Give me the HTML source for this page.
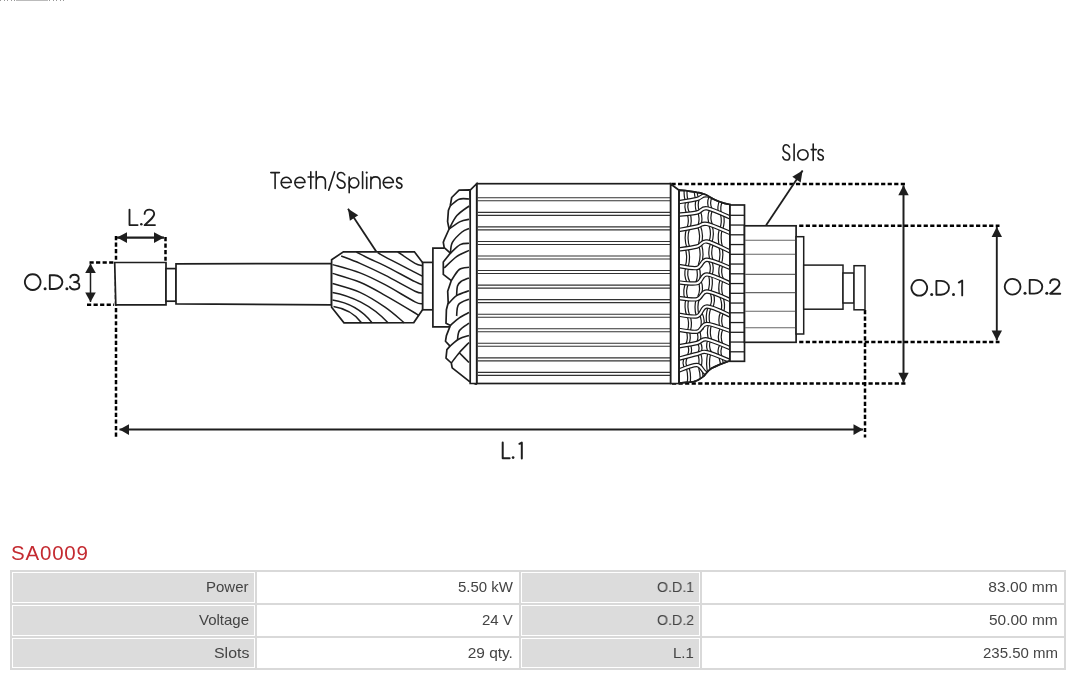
<!DOCTYPE html>
<html><head><meta charset="utf-8"><style>
html,body{margin:0;padding:0;background:#fff;width:1080px;height:676px;overflow:hidden;position:relative}
body{font-family:"Liberation Sans",sans-serif}
#title{position:absolute;left:11px;top:541px;font-size:20.5px;color:#c42a30;letter-spacing:0.8px;will-change:transform}
#tbl{position:absolute;left:10px;top:570px;border-collapse:separate;border-spacing:2px;background:#d9d9d9;table-layout:fixed}
#tbl td{border:1px solid #fff;height:29px;padding:0 5px;box-sizing:border-box;text-align:right;font-size:15px;color:#444;white-space:nowrap}
#tbl td span{display:inline-block;transform-origin:100% 50%;will-change:transform}
#tbl td.l{background:#dcdcdc}
#tbl td.v{background:#fff}
.top{position:absolute;left:0;top:0;height:1px;width:16px;background:repeating-linear-gradient(90deg,#999 0 1px,#fff 1px 3.57px)}
.top2{position:absolute;left:49px;top:0;height:1px;width:16px;background:repeating-linear-gradient(90deg,#999 0 1px,#fff 1px 3.57px)}
.topbar{position:absolute;left:16px;top:0;height:1px;width:32px;background:#bbb}
</style></head><body>
<div class="top"></div><div class="top2"></div><div class="topbar"></div>
<svg width="1080" height="520" viewBox="0 0 1080 520" style="position:absolute;left:0;top:0">
<g fill="none" stroke="#1e1e1e" stroke-linecap="butt" stroke-linejoin="miter">
<line x1="116" y1="236" x2="116" y2="437" stroke="#000" stroke-width="2.5" stroke-dasharray="4.2 2.35"/>
<line x1="165.5" y1="237" x2="165.5" y2="262" stroke="#000" stroke-width="2.5" stroke-dasharray="4.2 2.35"/>
<line x1="89.5" y1="262.4" x2="114" y2="262.4" stroke="#000" stroke-width="2.5" stroke-dasharray="4.2 2.35"/>
<line x1="87" y1="304.8" x2="114" y2="304.8" stroke="#000" stroke-width="2.5" stroke-dasharray="4.2 2.35"/>
<line x1="671.5" y1="184.1" x2="905.5" y2="184.1" stroke="#000" stroke-width="2.5" stroke-dasharray="4.2 2.35"/>
<line x1="672" y1="383.6" x2="905.5" y2="383.6" stroke="#000" stroke-width="2.5" stroke-dasharray="4.2 2.35"/>
<line x1="799.2" y1="225.8" x2="999.5" y2="225.8" stroke="#000" stroke-width="2.5" stroke-dasharray="4.2 2.35"/>
<line x1="799.2" y1="342" x2="999.5" y2="342" stroke="#000" stroke-width="2.5" stroke-dasharray="4.2 2.35"/>
<line x1="865" y1="310" x2="865" y2="437.5" stroke="#000" stroke-width="2.5" stroke-dasharray="4.2 2.35"/>
<line x1="117" y1="237.6" x2="164" y2="237.6" stroke-width="2.2"/>
<path d="M164.00,237.60 L154.00,243.00 L154.00,232.20 Z" fill="#1e1e1e" stroke="none"/>
<path d="M117.00,237.60 L127.00,232.20 L127.00,243.00 Z" fill="#1e1e1e" stroke="none"/>
<line x1="90.5" y1="263.5" x2="90.5" y2="302" stroke-width="1.5"/>
<path d="M90.50,302.00 L85.20,292.50 L95.80,292.50 Z" fill="#1e1e1e" stroke="none"/>
<path d="M90.50,263.50 L95.80,273.00 L85.20,273.00 Z" fill="#1e1e1e" stroke="none"/>
<line x1="119.5" y1="429.6" x2="863" y2="429.6" stroke-width="2.0"/>
<path d="M863.00,429.60 L853.50,434.90 L853.50,424.30 Z" fill="#1e1e1e" stroke="none"/>
<path d="M119.50,429.60 L129.00,424.30 L129.00,434.90 Z" fill="#1e1e1e" stroke="none"/>
<line x1="903.5" y1="185.3" x2="903.5" y2="382.8" stroke-width="2.0"/>
<path d="M903.50,382.80 L898.30,372.80 L908.70,372.80 Z" fill="#1e1e1e" stroke="none"/>
<path d="M903.50,185.30 L908.70,195.30 L898.30,195.30 Z" fill="#1e1e1e" stroke="none"/>
<line x1="996.8" y1="226.9" x2="996.8" y2="340.4" stroke-width="1.9"/>
<path d="M996.80,340.40 L991.60,330.40 L1002.00,330.40 Z" fill="#1e1e1e" stroke="none"/>
<path d="M996.80,226.90 L1002.00,236.90 L991.60,236.90 Z" fill="#1e1e1e" stroke="none"/>
<line x1="376.9" y1="252.5" x2="348" y2="208.8" stroke-width="1.8"/>
<path d="M348.00,208.80 L358.24,215.22 L349.90,220.73 Z" fill="#1e1e1e" stroke="none"/>
<line x1="766.1" y1="225.2" x2="802.6" y2="170.5" stroke-width="1.8"/>
<path d="M802.60,170.50 L800.65,182.43 L792.34,176.87 Z" fill="#1e1e1e" stroke="none"/>
<polygon points="114.7,262.5 166,262.5 166,304.8 115.8,304.8" fill="#fff" stroke-width="1.7"/>
<rect x="166" y="268.6" width="10" height="32.599999999999966" fill="#fff" stroke-width="1.7"/>
<polygon points="176,263.8 331.5,263.5 331.5,304.8 176,303.9" fill="#fff" stroke-width="1.7"/>
<polygon points="331.6,259.8 343.4,251.8 414.4,251.8 422.7,262.8 422.7,309.5 413.8,322.6 344,322.8 331.6,307.2" fill="#fff" stroke-width="1.7"/>
<path d="M397.80,252.00 C400.67,253.90 410.85,261.10 415.00,263.40 C419.15,265.70 421.42,265.40 422.70,265.80" fill="none" stroke-width="1.5"/>
<path d="M377.70,252.50 C378.92,253.23 378.78,253.60 385.00,256.90 C391.22,260.20 408.72,269.05 415.00,272.30 C421.28,275.55 421.42,275.72 422.70,276.40" fill="none" stroke-width="1.5"/>
<path d="M356.40,252.00 C358.67,253.17 365.23,256.70 370.00,259.00 C374.77,261.30 377.50,262.02 385.00,265.80 C392.50,269.58 408.72,278.55 415.00,281.70 C421.28,284.85 421.42,284.20 422.70,284.70" fill="none" stroke-width="1.5"/>
<path d="M341.20,256.00 C344.33,257.23 352.70,260.20 360.00,263.40 C367.30,266.60 375.83,270.57 385.00,275.20 C394.17,279.83 408.72,288.23 415.00,291.20 C421.28,294.17 421.42,292.70 422.70,293.00" fill="none" stroke-width="1.5"/>
<path d="M332.50,264.60 C337.08,265.98 351.25,269.55 360.00,272.90 C368.75,276.25 375.83,279.88 385.00,284.70 C394.17,289.52 408.72,298.65 415.00,301.80 C421.28,304.95 421.42,303.30 422.70,303.60" fill="none" stroke-width="1.5"/>
<path d="M332.50,273.40 C337.08,274.88 351.25,278.65 360.00,282.30 C368.75,285.95 375.83,290.18 385.00,295.30 C394.17,300.42 409.47,309.63 415.00,313.00 C420.53,316.37 417.67,315.08 418.20,315.50" fill="none" stroke-width="1.5"/>
<path d="M332.50,283.50 C337.08,284.98 351.25,288.45 360.00,292.40 C368.75,296.35 377.62,302.13 385.00,307.20 C392.38,312.27 401.08,320.20 404.30,322.80" fill="none" stroke-width="1.5"/>
<path d="M332.5,292.4 C350,295.5 372,305 388,322.8" fill="none" stroke-width="1.5"/>
<path d="M332.5,300.1 C348,302.5 362,310 372,322.8" fill="none" stroke-width="1.5"/>
<path d="M333.5,306.6 C345,308.5 355,314 361.5,322.8" fill="none" stroke-width="1.5"/>
<rect x="422.7" y="262.4" width="10.199999999999989" height="47.400000000000034" fill="#fff" stroke-width="1.7"/>
<path d="M444.2,248.2 H432.9 V326.9 H450" fill="#fff" stroke-width="1.7"/>
<path d="M469.9,189.9 L459.1,190.1 L451.7,197.5 L450.2,206 L448.4,210.4 L447.6,221.6 L449.1,229 L444.2,239.8 L443.3,242.4 L444.2,247.7 L450.4,253.1 L443.3,262 L443.3,274.4 L451.3,280.6 L447.7,291.2 L448.2,302.7 L446.4,309.8 L446,323.2 L450.4,325.4 L446.4,335.6 L445.5,341.2 L450,346.1 L446.9,349.6 L446,358.1 L451.3,363 L452.2,367.8 L469,381.1 L476.1,384.2 Z" fill="#fff" stroke-width="1.7" stroke-linejoin="round"/>
<path d="M450.20,206.00 C451.68,204.87 455.95,200.37 459.10,199.20 C462.25,198.03 467.43,199.03 469.10,199.00" fill="none" stroke-width="1.6" stroke-linejoin="round"/>
<path d="M449.10,229.00 C450.40,226.77 453.57,219.43 456.90,215.60 C460.23,211.77 467.07,207.60 469.10,206.00" fill="none" stroke-width="1.6" stroke-linejoin="round"/>
<path d="M449.10,229.00 C450.95,227.77 456.87,223.22 460.20,221.60 C463.53,219.98 467.62,219.68 469.10,219.30" fill="none" stroke-width="1.6" stroke-linejoin="round"/>
<path d="M450.40,253.10 C450.73,251.32 450.47,245.92 452.40,242.40 C454.33,238.88 459.22,234.32 462.00,232.00 C464.78,229.68 467.92,229.08 469.10,228.50" fill="none" stroke-width="1.6" stroke-linejoin="round"/>
<path d="M450.40,253.10 C452.03,251.68 457.10,246.23 460.20,244.60 C463.30,242.97 467.53,243.52 469.00,243.30" fill="none" stroke-width="1.6" stroke-linejoin="round"/>
<path d="M444.20,268.00 C446.27,266.10 452.47,259.53 456.60,256.60 C460.73,253.67 466.93,251.43 469.00,250.40" fill="none" stroke-width="1.6" stroke-linejoin="round"/>
<path d="M451.30,280.60 C452.63,278.75 456.35,271.72 459.30,269.50 C462.25,267.28 467.38,267.67 469.00,267.30" fill="none" stroke-width="1.6" stroke-linejoin="round"/>
<path d="M448.20,304.00 C449.60,302.60 453.13,297.80 456.60,295.60 C460.07,293.40 466.93,291.60 469.00,290.80" fill="none" stroke-width="1.6" stroke-linejoin="round"/>
<path d="M456.60,295.60 C456.75,294.00 456.77,288.35 457.50,286.00 C458.23,283.65 459.08,282.85 461.00,281.50 C462.92,280.15 467.67,278.50 469.00,277.90" fill="none" stroke-width="1.6" stroke-linejoin="round"/>
<path d="M456.60,316.00 C456.93,314.08 456.53,307.30 458.60,304.50 C460.67,301.70 467.27,300.08 469.00,299.20" fill="none" stroke-width="1.6" stroke-linejoin="round"/>
<path d="M450.40,325.40 C451.88,324.13 456.20,319.95 459.30,317.80 C462.40,315.65 467.38,313.38 469.00,312.50" fill="none" stroke-width="1.6" stroke-linejoin="round"/>
<path d="M457.50,340.00 C457.83,338.42 457.58,333.30 459.50,330.50 C461.42,327.70 467.42,324.42 469.00,323.20" fill="none" stroke-width="1.6" stroke-linejoin="round"/>
<path d="M450.00,346.10 C451.50,344.92 455.83,340.77 459.00,339.00 C462.17,337.23 467.33,336.08 469.00,335.50" fill="none" stroke-width="1.6" stroke-linejoin="round"/>
<path d="M451.30,363.00 C452.63,361.28 456.35,356.12 459.30,352.70 C462.25,349.28 467.38,344.20 469.00,342.50" fill="none" stroke-width="1.6" stroke-linejoin="round"/>
<path d="M459.30,352.70 C460.92,354.33 467.38,360.87 469.00,362.50" fill="none" stroke-width="1.6" stroke-linejoin="round"/>
<rect x="476.7" y="183.7" width="194.00000000000006" height="199.8" fill="#fff" stroke-width="1.7"/>
<polygon points="470.2,190.2 476.7,183.7 476.7,383.5 470.2,383.5" fill="#fff" stroke-width="1.7"/>
<path d="M477.5,197.80 H670 M477.5,200.80 H670" fill="none" stroke="#333" stroke-width="1.1"/>
<path d="M477.5,212.35 H670 M477.5,215.35 H670" fill="none" stroke="#333" stroke-width="1.1"/>
<path d="M477.5,226.90 H670 M477.5,229.90 H670" fill="none" stroke="#333" stroke-width="1.1"/>
<path d="M477.5,241.45 H670 M477.5,244.45 H670" fill="none" stroke="#333" stroke-width="1.1"/>
<path d="M477.5,256.00 H670 M477.5,259.00 H670" fill="none" stroke="#333" stroke-width="1.1"/>
<path d="M477.5,270.55 H670 M477.5,273.55 H670" fill="none" stroke="#333" stroke-width="1.1"/>
<path d="M477.5,285.10 H670 M477.5,288.10 H670" fill="none" stroke="#333" stroke-width="1.1"/>
<path d="M477.5,299.65 H670 M477.5,302.65 H670" fill="none" stroke="#333" stroke-width="1.1"/>
<path d="M477.5,314.20 H670 M477.5,317.20 H670" fill="none" stroke="#333" stroke-width="1.1"/>
<path d="M477.5,328.75 H670 M477.5,331.75 H670" fill="none" stroke="#333" stroke-width="1.1"/>
<path d="M477.5,343.30 H670 M477.5,346.30 H670" fill="none" stroke="#333" stroke-width="1.1"/>
<path d="M477.5,357.85 H670 M477.5,360.85 H670" fill="none" stroke="#333" stroke-width="1.1"/>
<path d="M477.5,372.40 H670 M477.5,375.40 H670" fill="none" stroke="#333" stroke-width="1.1"/>
<polygon points="670.7,184 679.1,190.2 679.1,383.5 670.7,383.5" fill="#fff" stroke-width="1.7"/>
<clipPath id="mc"><path d="M679.1,190.2 C688,191 693,191.5 696.7,192.3 C702,193 705,194 708,196 C713,199 718,202.5 729.9,204.5 L729.9,360.6 C722,363.5 716,366 711.6,368.3 C707,371 706,374 703.8,376.1 C700,379 697,381 693.8,381.7 L679.1,383 Z"/></clipPath>
<path d="M679.1,190.2 C688,191 693,191.5 696.7,192.3 C702,193 705,194 708,196 C713,199 718,202.5 729.9,204.5 L729.9,360.6 C722,363.5 716,366 711.6,368.3 C707,371 706,374 703.8,376.1 C700,379 697,381 693.8,381.7 L679.1,383 Z" fill="#fff" stroke-width="1.7"/>
<g clip-path="url(#mc)"><path d="M686.97,185.00 Q684.25,192.86 686.72,200.72" fill="none" stroke="#1a1a1a" stroke-width="4.1"/><path d="M686.97,185.00 Q684.25,192.86 686.72,200.72" fill="none" stroke="#fff" stroke-width="1.7"/><path d="M697.64,185.00 Q694.08,191.88 697.32,198.77" fill="none" stroke="#1a1a1a" stroke-width="4.1"/><path d="M697.64,185.00 Q694.08,191.88 697.32,198.77" fill="none" stroke="#fff" stroke-width="1.7"/><path d="M709.17,185.00 Q706.02,190.57 708.06,196.15" fill="none" stroke="#1a1a1a" stroke-width="4.1"/><path d="M709.17,185.00 Q706.02,190.57 708.06,196.15" fill="none" stroke="#fff" stroke-width="1.7"/><path d="M721.30,185.00 Q717.59,192.66 720.68,200.32" fill="none" stroke="#1a1a1a" stroke-width="4.1"/><path d="M721.30,185.00 Q717.59,192.66 720.68,200.32" fill="none" stroke="#fff" stroke-width="1.7"/><path d="M687.65,200.60 Q684.65,207.11 688.44,213.61" fill="none" stroke="#1a1a1a" stroke-width="4.1"/><path d="M687.65,200.60 Q684.65,207.11 688.44,213.61" fill="none" stroke="#fff" stroke-width="1.7"/><path d="M697.87,198.69 Q695.43,205.41 698.18,212.13" fill="none" stroke="#1a1a1a" stroke-width="4.1"/><path d="M697.87,198.69 Q695.43,205.41 698.18,212.13" fill="none" stroke="#fff" stroke-width="1.7"/><path d="M710.75,196.69 Q707.44,203.24 710.93,209.78" fill="none" stroke="#1a1a1a" stroke-width="4.1"/><path d="M710.75,196.69 Q707.44,203.24 710.93,209.78" fill="none" stroke="#fff" stroke-width="1.7"/><path d="M721.19,200.28 Q718.05,207.10 720.10,213.92" fill="none" stroke="#1a1a1a" stroke-width="4.1"/><path d="M721.19,200.28 Q718.05,207.10 720.10,213.92" fill="none" stroke="#fff" stroke-width="1.7"/><path d="M688.58,213.50 Q691.08,220.82 688.38,228.14" fill="none" stroke="#1a1a1a" stroke-width="4.1"/><path d="M688.58,213.50 Q691.08,220.82 688.38,228.14" fill="none" stroke="#fff" stroke-width="1.7"/><path d="M699.12,211.61 Q701.79,218.78 699.27,225.95" fill="none" stroke="#1a1a1a" stroke-width="4.1"/><path d="M699.12,211.61 Q701.79,218.78 699.27,225.95" fill="none" stroke="#fff" stroke-width="1.7"/><path d="M711.05,209.90 Q707.74,217.69 711.24,225.49" fill="none" stroke="#1a1a1a" stroke-width="4.1"/><path d="M711.05,209.90 Q707.74,217.69 711.24,225.49" fill="none" stroke="#fff" stroke-width="1.7"/><path d="M721.92,214.21 Q724.03,221.98 720.95,229.75" fill="none" stroke="#1a1a1a" stroke-width="4.1"/><path d="M721.92,214.21 Q724.03,221.98 720.95,229.75" fill="none" stroke="#fff" stroke-width="1.7"/><path d="M688.14,228.23 Q684.88,238.06 688.42,247.89" fill="none" stroke="#1a1a1a" stroke-width="4.1"/><path d="M688.14,228.23 Q684.88,238.06 688.42,247.89" fill="none" stroke="#fff" stroke-width="1.7"/><path d="M698.99,225.98 Q702.72,235.74 699.65,245.51" fill="none" stroke="#1a1a1a" stroke-width="4.1"/><path d="M698.99,225.98 Q702.72,235.74 699.65,245.51" fill="none" stroke="#fff" stroke-width="1.7"/><path d="M710.40,225.23 Q713.63,234.11 710.06,242.98" fill="none" stroke="#1a1a1a" stroke-width="4.1"/><path d="M710.40,225.23 Q713.63,234.11 710.06,242.98" fill="none" stroke="#fff" stroke-width="1.7"/><path d="M720.75,229.29 Q718.38,238.39 721.22,247.49" fill="none" stroke="#1a1a1a" stroke-width="4.1"/><path d="M720.75,229.29 Q718.38,238.39 721.22,247.49" fill="none" stroke="#fff" stroke-width="1.7"/><path d="M686.73,248.11 Q689.36,257.45 686.79,266.78" fill="none" stroke="#1a1a1a" stroke-width="4.1"/><path d="M686.73,248.11 Q689.36,257.45 686.79,266.78" fill="none" stroke="#fff" stroke-width="1.7"/><path d="M700.13,244.94 Q703.27,255.19 699.62,265.44" fill="none" stroke="#1a1a1a" stroke-width="4.1"/><path d="M700.13,244.94 Q703.27,255.19 699.62,265.44" fill="none" stroke="#fff" stroke-width="1.7"/><path d="M711.94,243.65 Q708.55,252.61 711.97,261.56" fill="none" stroke="#1a1a1a" stroke-width="4.1"/><path d="M711.94,243.65 Q708.55,252.61 711.97,261.56" fill="none" stroke="#fff" stroke-width="1.7"/><path d="M720.49,247.38 Q722.68,255.99 719.66,264.60" fill="none" stroke="#1a1a1a" stroke-width="4.1"/><path d="M720.49,247.38 Q722.68,255.99 719.66,264.60" fill="none" stroke="#fff" stroke-width="1.7"/><path d="M687.47,266.87 Q684.62,274.78 688.58,282.70" fill="none" stroke="#1a1a1a" stroke-width="4.1"/><path d="M687.47,266.87 Q684.62,274.78 688.58,282.70" fill="none" stroke="#fff" stroke-width="1.7"/><path d="M697.73,267.40 Q700.14,274.98 697.35,282.56" fill="none" stroke="#1a1a1a" stroke-width="4.1"/><path d="M697.73,267.40 Q700.14,274.98 697.35,282.56" fill="none" stroke="#fff" stroke-width="1.7"/><path d="M710.05,260.89 Q713.55,268.24 710.24,275.60" fill="none" stroke="#1a1a1a" stroke-width="4.1"/><path d="M710.05,260.89 Q713.55,268.24 710.24,275.60" fill="none" stroke="#fff" stroke-width="1.7"/><path d="M721.37,264.92 Q718.50,272.47 722.44,280.03" fill="none" stroke="#1a1a1a" stroke-width="4.1"/><path d="M721.37,264.92 Q718.50,272.47 722.44,280.03" fill="none" stroke="#fff" stroke-width="1.7"/><path d="M687.42,282.70 Q683.50,290.61 686.37,298.52" fill="none" stroke="#1a1a1a" stroke-width="4.1"/><path d="M687.42,282.70 Q683.50,290.61 686.37,298.52" fill="none" stroke="#fff" stroke-width="1.7"/><path d="M699.60,280.91 Q702.75,289.05 699.09,297.19" fill="none" stroke="#1a1a1a" stroke-width="4.1"/><path d="M699.60,280.91 Q702.75,289.05 699.09,297.19" fill="none" stroke="#fff" stroke-width="1.7"/><path d="M710.16,275.64 Q712.18,284.16 709.01,292.67" fill="none" stroke="#1a1a1a" stroke-width="4.1"/><path d="M710.16,275.64 Q712.18,284.16 709.01,292.67" fill="none" stroke="#fff" stroke-width="1.7"/><path d="M721.39,280.04 Q718.92,288.45 721.65,296.85" fill="none" stroke="#1a1a1a" stroke-width="4.1"/><path d="M721.39,280.04 Q718.92,288.45 721.65,296.85" fill="none" stroke="#fff" stroke-width="1.7"/><path d="M687.48,298.52 Q685.20,306.93 688.12,315.35" fill="none" stroke="#1a1a1a" stroke-width="4.1"/><path d="M687.48,298.52 Q685.20,306.93 688.12,315.35" fill="none" stroke="#fff" stroke-width="1.7"/><path d="M697.89,298.52 Q695.17,306.97 697.64,315.43" fill="none" stroke="#1a1a1a" stroke-width="4.1"/><path d="M697.89,298.52 Q695.17,306.97 697.64,315.43" fill="none" stroke="#fff" stroke-width="1.7"/><path d="M711.75,293.27 Q714.65,300.81 710.74,308.36" fill="none" stroke="#1a1a1a" stroke-width="4.1"/><path d="M711.75,293.27 Q714.65,300.81 710.74,308.36" fill="none" stroke="#fff" stroke-width="1.7"/><path d="M721.35,296.84 Q724.41,304.48 722.27,312.12" fill="none" stroke="#1a1a1a" stroke-width="4.1"/><path d="M721.35,296.84 Q724.41,304.48 722.27,312.12" fill="none" stroke="#fff" stroke-width="1.7"/><path d="M688.46,315.45 Q691.31,323.11 688.95,330.76" fill="none" stroke="#1a1a1a" stroke-width="4.1"/><path d="M688.46,315.45 Q691.31,323.11 688.95,330.76" fill="none" stroke="#fff" stroke-width="1.7"/><path d="M700.46,312.91 Q704.41,320.96 701.56,329.00" fill="none" stroke="#1a1a1a" stroke-width="4.1"/><path d="M700.46,312.91 Q704.41,320.96 701.56,329.00" fill="none" stroke="#fff" stroke-width="1.7"/><path d="M709.45,307.46 Q706.43,316.06 708.62,324.67" fill="none" stroke="#1a1a1a" stroke-width="4.1"/><path d="M709.45,307.46 Q706.43,316.06 708.62,324.67" fill="none" stroke="#fff" stroke-width="1.7"/><path d="M721.98,312.37 Q718.56,320.47 721.94,328.57" fill="none" stroke="#1a1a1a" stroke-width="4.1"/><path d="M721.98,312.37 Q718.56,320.47 721.94,328.57" fill="none" stroke="#fff" stroke-width="1.7"/><path d="M687.77,330.69 Q690.11,337.66 687.24,344.63" fill="none" stroke="#1a1a1a" stroke-width="4.1"/><path d="M687.77,330.69 Q690.11,337.66 687.24,344.63" fill="none" stroke="#fff" stroke-width="1.7"/><path d="M697.94,330.97 Q700.67,336.82 698.20,342.66" fill="none" stroke="#1a1a1a" stroke-width="4.1"/><path d="M697.94,330.97 Q700.67,336.82 698.20,342.66" fill="none" stroke="#fff" stroke-width="1.7"/><path d="M709.96,324.82 Q707.58,332.67 710.41,340.52" fill="none" stroke="#1a1a1a" stroke-width="4.1"/><path d="M709.96,324.82 Q707.58,332.67 710.41,340.52" fill="none" stroke="#fff" stroke-width="1.7"/><path d="M721.55,328.44 Q718.09,336.68 721.44,344.93" fill="none" stroke="#1a1a1a" stroke-width="4.1"/><path d="M721.55,328.44 Q718.09,336.68 721.44,344.93" fill="none" stroke="#fff" stroke-width="1.7"/><path d="M688.61,344.48 Q691.89,350.32 688.37,356.16" fill="none" stroke="#1a1a1a" stroke-width="4.1"/><path d="M688.61,344.48 Q691.89,350.32 688.37,356.16" fill="none" stroke="#fff" stroke-width="1.7"/><path d="M698.68,342.39 Q702.24,348.05 699.00,353.70" fill="none" stroke="#1a1a1a" stroke-width="4.1"/><path d="M698.68,342.39 Q702.24,348.05 699.00,353.70" fill="none" stroke="#fff" stroke-width="1.7"/><path d="M709.19,340.23 Q706.37,346.63 710.35,353.03" fill="none" stroke="#1a1a1a" stroke-width="4.1"/><path d="M709.19,340.23 Q706.37,346.63 710.35,353.03" fill="none" stroke="#fff" stroke-width="1.7"/><path d="M721.32,344.84 Q717.73,351.24 720.94,357.64" fill="none" stroke="#1a1a1a" stroke-width="4.1"/><path d="M721.32,344.84 Q717.73,351.24 720.94,357.64" fill="none" stroke="#fff" stroke-width="1.7"/><path d="M686.16,356.79 Q682.84,362.62 686.32,368.46" fill="none" stroke="#1a1a1a" stroke-width="4.1"/><path d="M686.16,356.79 Q682.84,362.62 686.32,368.46" fill="none" stroke="#fff" stroke-width="1.7"/><path d="M699.11,353.62 Q701.85,360.25 699.38,366.88" fill="none" stroke="#1a1a1a" stroke-width="4.1"/><path d="M699.11,353.62 Q701.85,360.25 699.38,366.88" fill="none" stroke="#fff" stroke-width="1.7"/><path d="M709.21,353.04 Q706.75,363.83 709.48,374.62" fill="none" stroke="#1a1a1a" stroke-width="4.1"/><path d="M709.21,353.04 Q706.75,363.83 709.48,374.62" fill="none" stroke="#fff" stroke-width="1.7"/><path d="M720.45,357.31 Q723.59,367.78 721.54,378.26" fill="none" stroke="#1a1a1a" stroke-width="4.1"/><path d="M720.45,357.31 Q723.59,367.78 721.54,378.26" fill="none" stroke="#fff" stroke-width="1.7"/><path d="M687.81,367.93 Q690.75,378.97 686.90,390.00" fill="none" stroke="#1a1a1a" stroke-width="4.1"/><path d="M687.81,367.93 Q690.75,378.97 686.90,390.00" fill="none" stroke="#fff" stroke-width="1.7"/><path d="M700.05,367.71 Q703.42,378.86 700.00,390.00" fill="none" stroke="#1a1a1a" stroke-width="4.1"/><path d="M700.05,367.71 Q703.42,378.86 700.00,390.00" fill="none" stroke="#fff" stroke-width="1.7"/><path d="M709.94,374.85 Q706.86,382.43 708.98,390.00" fill="none" stroke="#1a1a1a" stroke-width="4.1"/><path d="M709.94,374.85 Q706.86,382.43 708.98,390.00" fill="none" stroke="#fff" stroke-width="1.7"/><path d="M721.03,378.45 Q723.60,384.22 720.98,390.00" fill="none" stroke="#1a1a1a" stroke-width="4.1"/><path d="M721.03,378.45 Q723.60,384.22 720.98,390.00" fill="none" stroke="#fff" stroke-width="1.7"/><path d="M676.00,202.60 C679.50,202.00 691.83,200.20 697.00,199.00 C702.17,197.80 701.17,194.57 707.00,195.40 C712.83,196.23 727.83,202.57 732.00,204.00" fill="none" stroke="#1a1a1a" stroke-width="4.4"/><path d="M676.00,202.60 C679.50,202.00 691.83,200.20 697.00,199.00 C702.17,197.80 701.17,194.57 707.00,195.40 C712.83,196.23 727.83,202.57 732.00,204.00" fill="none" stroke="#fff" stroke-width="2.0"/><path d="M676.00,215.00 C679.50,214.58 691.83,213.62 697.00,212.50 C702.17,211.38 701.17,207.35 707.00,208.30 C712.83,209.25 727.83,216.55 732.00,218.20" fill="none" stroke="#1a1a1a" stroke-width="4.4"/><path d="M676.00,215.00 C679.50,214.58 691.83,213.62 697.00,212.50 C702.17,211.38 701.17,207.35 707.00,208.30 C712.83,209.25 727.83,216.55 732.00,218.20" fill="none" stroke="#fff" stroke-width="2.0"/><path d="M676.00,230.60 C679.50,229.92 691.83,227.62 697.00,226.50 C702.17,225.38 701.17,222.70 707.00,223.90 C712.83,225.10 727.83,232.07 732.00,233.70" fill="none" stroke="#1a1a1a" stroke-width="4.4"/><path d="M676.00,230.60 C679.50,229.92 691.83,227.62 697.00,226.50 C702.17,225.38 701.17,222.70 707.00,223.90 C712.83,225.10 727.83,232.07 732.00,233.70" fill="none" stroke="#fff" stroke-width="2.0"/><path d="M676.00,249.80 C679.50,249.25 691.83,247.88 697.00,246.50 C702.17,245.12 701.17,240.52 707.00,241.50 C712.83,242.48 727.83,250.58 732.00,252.40" fill="none" stroke="#1a1a1a" stroke-width="4.4"/><path d="M676.00,249.80 C679.50,249.25 691.83,247.88 697.00,246.50 C702.17,245.12 701.17,240.52 707.00,241.50 C712.83,242.48 727.83,250.58 732.00,252.40" fill="none" stroke="#fff" stroke-width="2.0"/><path d="M676.00,265.50 C679.50,265.92 691.83,268.95 697.00,268.00 C702.17,267.05 701.17,259.68 707.00,259.80 C712.83,259.92 727.83,267.22 732.00,268.70" fill="none" stroke="#1a1a1a" stroke-width="4.4"/><path d="M676.00,265.50 C679.50,265.92 691.83,268.95 697.00,268.00 C702.17,267.05 701.17,259.68 707.00,259.80 C712.83,259.92 727.83,267.22 732.00,268.70" fill="none" stroke="#fff" stroke-width="2.0"/><path d="M676.00,282.10 C679.50,282.28 691.83,284.48 697.00,283.20 C702.17,281.92 701.17,274.23 707.00,274.40 C712.83,274.57 727.83,282.57 732.00,284.20" fill="none" stroke="#1a1a1a" stroke-width="4.4"/><path d="M676.00,282.10 C679.50,282.28 691.83,284.48 697.00,283.20 C702.17,281.92 701.17,274.23 707.00,274.40 C712.83,274.57 727.83,282.57 732.00,284.20" fill="none" stroke="#fff" stroke-width="2.0"/><path d="M676.00,297.70 C679.50,297.95 691.83,300.23 697.00,299.20 C702.17,298.17 701.17,291.23 707.00,291.50 C712.83,291.77 727.83,299.25 732.00,300.80" fill="none" stroke="#1a1a1a" stroke-width="4.4"/><path d="M676.00,297.70 C679.50,297.95 691.83,300.23 697.00,299.20 C702.17,298.17 701.17,291.23 707.00,291.50 C712.83,291.77 727.83,299.25 732.00,300.80" fill="none" stroke="#fff" stroke-width="2.0"/><path d="M676.00,314.20 C679.50,314.55 691.83,317.58 697.00,316.30 C702.17,315.02 701.17,306.50 707.00,306.50 C712.83,306.50 727.83,314.67 732.00,316.30" fill="none" stroke="#1a1a1a" stroke-width="4.4"/><path d="M676.00,314.20 C679.50,314.55 691.83,317.58 697.00,316.30 C702.17,315.02 701.17,306.50 707.00,306.50 C712.83,306.50 727.83,314.67 732.00,316.30" fill="none" stroke="#fff" stroke-width="2.0"/><path d="M676.00,329.40 C679.50,329.78 691.83,332.62 697.00,331.70 C702.17,330.78 701.17,323.90 707.00,323.90 C712.83,323.90 727.83,330.40 732.00,331.70" fill="none" stroke="#1a1a1a" stroke-width="4.4"/><path d="M676.00,329.40 C679.50,329.78 691.83,332.62 697.00,331.70 C702.17,330.78 701.17,323.90 707.00,323.90 C712.83,323.90 727.83,330.40 732.00,331.70" fill="none" stroke="#fff" stroke-width="2.0"/><path d="M676.00,346.70 C679.50,346.08 691.83,344.22 697.00,343.00 C702.17,341.78 701.17,338.42 707.00,339.40 C712.83,340.38 727.83,347.32 732.00,348.90" fill="none" stroke="#1a1a1a" stroke-width="4.4"/><path d="M676.00,346.70 C679.50,346.08 691.83,344.22 697.00,343.00 C702.17,341.78 701.17,338.42 707.00,339.40 C712.83,340.38 727.83,347.32 732.00,348.90" fill="none" stroke="#fff" stroke-width="2.0"/><path d="M676.00,359.40 C679.50,358.50 691.83,355.20 697.00,354.00 C702.17,352.80 701.17,350.92 707.00,352.20 C712.83,353.48 727.83,360.12 732.00,361.70" fill="none" stroke="#1a1a1a" stroke-width="4.4"/><path d="M676.00,359.40 C679.50,358.50 691.83,355.20 697.00,354.00 C702.17,352.80 701.17,350.92 707.00,352.20 C712.83,353.48 727.83,360.12 732.00,361.70" fill="none" stroke="#fff" stroke-width="2.0"/><path d="M676.00,371.70 C679.50,370.58 691.83,364.63 697.00,365.00 C702.17,365.37 701.17,371.07 707.00,373.90 C712.83,376.73 727.83,380.65 732.00,382.00" fill="none" stroke="#1a1a1a" stroke-width="4.4"/><path d="M676.00,371.70 C679.50,370.58 691.83,364.63 697.00,365.00 C702.17,365.37 701.17,371.07 707.00,373.90 C712.83,376.73 727.83,380.65 732.00,382.00" fill="none" stroke="#fff" stroke-width="2.0"/></g>
<path d="M679.1,190.2 C688,191 693,191.5 696.7,192.3 C702,193 705,194 708,196 C713,199 718,202.5 729.9,204.5 L729.9,360.6 C722,363.5 716,366 711.6,368.3 C707,371 706,374 703.8,376.1 C700,379 697,381 693.8,381.7 L679.1,383 Z" fill="none" stroke-width="1.7"/>
<rect x="730" y="205" width="14.5" height="156.3" fill="#fff" stroke-width="1.7"/>
<line x1="730" y1="215.30" x2="744.5" y2="215.30" stroke-width="1.3"/>
<line x1="730" y1="225.05" x2="744.5" y2="225.05" stroke-width="1.3"/>
<line x1="730" y1="234.80" x2="744.5" y2="234.80" stroke-width="1.3"/>
<line x1="730" y1="244.55" x2="744.5" y2="244.55" stroke-width="1.3"/>
<line x1="730" y1="254.30" x2="744.5" y2="254.30" stroke-width="1.3"/>
<line x1="730" y1="264.05" x2="744.5" y2="264.05" stroke-width="1.3"/>
<line x1="730" y1="273.80" x2="744.5" y2="273.80" stroke-width="1.3"/>
<line x1="730" y1="283.55" x2="744.5" y2="283.55" stroke-width="1.3"/>
<line x1="730" y1="293.30" x2="744.5" y2="293.30" stroke-width="1.3"/>
<line x1="730" y1="303.05" x2="744.5" y2="303.05" stroke-width="1.3"/>
<line x1="730" y1="312.80" x2="744.5" y2="312.80" stroke-width="1.3"/>
<line x1="730" y1="322.55" x2="744.5" y2="322.55" stroke-width="1.3"/>
<line x1="730" y1="332.30" x2="744.5" y2="332.30" stroke-width="1.3"/>
<line x1="730" y1="342.05" x2="744.5" y2="342.05" stroke-width="1.3"/>
<line x1="730" y1="351.80" x2="744.5" y2="351.80" stroke-width="1.3"/>
<rect x="744.5" y="225.8" width="51.60000000000002" height="116.5" fill="#fff" stroke-width="1.7"/>
<line x1="745" y1="240.3" x2="796" y2="240.3" stroke="#666" stroke-width="1.1"/>
<line x1="745" y1="254.3" x2="796" y2="254.3" stroke="#666" stroke-width="1.1"/>
<line x1="745" y1="274.4" x2="796" y2="274.4" stroke="#666" stroke-width="1.1"/>
<line x1="745" y1="292.6" x2="796" y2="292.6" stroke="#666" stroke-width="1.1"/>
<line x1="745" y1="311.3" x2="796" y2="311.3" stroke="#666" stroke-width="1.1"/>
<line x1="745" y1="327.8" x2="796" y2="327.8" stroke="#666" stroke-width="1.1"/>
<rect x="796.1" y="236.7" width="7.600000000000023" height="97.30000000000001" fill="#fff" stroke-width="1.5"/>
<rect x="803.7" y="265.1" width="39.299999999999955" height="44.099999999999966" fill="#fff" stroke-width="1.5"/>
<rect x="843" y="273" width="11" height="30" fill="#fff" stroke-width="1.5"/>
<rect x="854" y="265.7" width="11" height="44.10000000000002" fill="#fff" stroke-width="1.5"/>
</g>
<g fill="none" stroke="#1e1e1e" stroke-linecap="round" stroke-linejoin="round">
<path d="M919.3,279.9 a7.8,7.9 0 1 0 0.01,0 Z" stroke-width="1.85"/>
<circle cx="931.7" cy="294.4" r="1.5" fill="#1e1e1e" stroke="none"/>
<path d="M936.4,280.9 H941 C945.5,280.9 949,284 949,287.8 C949,291.6 945.5,294.7 941,294.7 H936.4 Z" stroke-width="1.85"/>
<circle cx="953.5" cy="294.4" r="1.5" fill="#1e1e1e" stroke="none"/>
<path d="M958.8,282.6 L962.2,280.5 V295.4" stroke-width="1.85"/>
<path d="M1012.5999999999999,278.79999999999995 a7.8,7.9 0 1 0 0.01,0 Z" stroke-width="1.85"/>
<circle cx="1025.0" cy="293.29999999999995" r="1.5" fill="#1e1e1e" stroke="none"/>
<path d="M1029.7,279.79999999999995 H1034.3 C1038.8,279.79999999999995 1042.3,282.9 1042.3,286.7 C1042.3,290.5 1038.8,293.59999999999997 1034.3,293.59999999999997 H1029.7 Z" stroke-width="1.85"/>
<circle cx="1046.8" cy="293.29999999999995" r="1.5" fill="#1e1e1e" stroke="none"/>
<path d="M1050.1,283.09999999999997 C1050.1,280.59999999999997 1052.3,279.2 1054.8,279.2 C1057.6,279.2 1059.5,281.09999999999997 1059.5,283.5 C1059.5,285.9 1057.3,287.9 1050.1,293.7 H1060.3" stroke-width="1.85"/>
<path d="M32.69999999999993,274.2 a7.8,7.9 0 1 0 0.01,0 Z" stroke-width="1.85"/>
<circle cx="45.10000000000002" cy="288.7" r="1.5" fill="#1e1e1e" stroke="none"/>
<path d="M49.799999999999955,275.2 H54.39999999999998 C58.89999999999998,275.2 62.39999999999998,278.3 62.39999999999998,282.1 C62.39999999999998,285.90000000000003 58.89999999999998,289.0 54.39999999999998,289.0 H49.799999999999955 Z" stroke-width="1.85"/>
<circle cx="66.89999999999998" cy="288.7" r="1.5" fill="#1e1e1e" stroke="none"/>
<path d="M70.29999999999998,277.5 C70.59999999999998,275.5 72.39999999999998,274.7 74.39999999999998,274.7 C76.99999999999997,274.7 78.69999999999997,276.3 78.69999999999997,278.5 C78.69999999999997,280.7 76.99999999999997,282.1 73.99999999999997,282.1 C77.39999999999998,282.1 79.39999999999998,283.8 79.39999999999998,285.8 C79.39999999999998,288.3 77.39999999999998,289.5 74.59999999999998,289.5 C72.19999999999997,289.5 70.39999999999998,288.5 69.89999999999998,286.7" stroke-width="1.85"/>
<path d="M129.5,209.6 V225.1 H137.6" stroke-width="1.85"/>
<circle cx="141.3" cy="224.3" r="1.25" fill="#1e1e1e" stroke="none"/>
<path d="M144.6,213.9 C144.6,211.2 146.9,209.6 149.5,209.6 C152.4,209.6 154.2,211.6 154.2,214.1 C154.2,216.6 151.9,218.8 144.6,225.1 H155" stroke-width="1.85"/>
<path d="M502.7,442.6 V458.3 H509.6" stroke-width="2.0"/>
<circle cx="513.1" cy="457.6" r="1.35" fill="#1e1e1e" stroke="none"/>
<path d="M519.4,443.8 L521.8,442.6 V458.6" stroke-width="2.0"/>
<path d="M270.8,172.6 H279.4 M275.1,172.6 V188.4" stroke-width="1.6"/>
<path d="M281.09999999999997,182.5 H291.3 A5.1,5.3 0 1 0 289.872,186.316" stroke-width="1.6"/>
<path d="M294.79999999999995,182.5 H305.0 A5.1,5.3 0 1 0 303.572,186.316" stroke-width="1.6"/>
<path d="M310.8,171.8 V188.4 M308.1,177 H313.7" stroke-width="1.6"/>
<path d="M316.2,171.5 V188.4 M316.2,181.6 C316.2,178.5 318.3,176.9 320.8,176.9 C323.3,176.9 325.4,178.5 325.4,181.6 V188.4" stroke-width="1.6"/>
<path d="M334.6,171.8 L328.7,190.2" stroke-width="1.6"/>
<path d="M344.72,174.84 C343.81,173.12 342.64,172.50 341.15,172.50 C338.83,172.50 337.42,174.06 337.42,176.56 C337.42,179.05 339.07,179.99 341.15,180.61 C343.64,181.39 345.05,182.48 345.05,184.67 C345.05,187.16 343.47,188.10 341.15,188.10 C339.32,188.10 337.83,187.01 337.00,184.98" stroke-width="1.6"/>
<path d="M349.2,177 V192.8" stroke-width="1.6"/>
<path d="M349.2,182.8 a4.8,5.1 0 1 0 9.6,0 a4.8,5.1 0 1 0 -9.6,0" stroke-width="1.6"/>
<path d="M362.6,171.7 V188.4" stroke-width="1.6"/>
<path d="M366.7,177.4 V188.4" stroke-width="1.6"/>
<circle cx="366.7" cy="172.6" r="1.1" fill="#1e1e1e" stroke="none"/>
<path d="M370.9,177 V188.4 M370.9,181.6 C370.9,178.6 372.9,176.9 375.5,176.9 C378,176.9 380,178.6 380,181.6 V188.4" stroke-width="1.6"/>
<path d="M383.2,182.5 H393.40000000000003 A5.1,5.3 0 1 0 391.97200000000004,186.316" stroke-width="1.6"/>
<path d="M401.70,179.19 C401.07,178.02 400.28,177.60 399.25,177.60 C397.65,177.60 396.69,178.66 396.69,180.36 C396.69,182.05 397.82,182.69 399.25,183.11 C400.96,183.64 401.93,184.38 401.93,185.87 C401.93,187.56 400.85,188.20 399.25,188.20 C398.00,188.20 396.97,187.46 396.40,186.08" stroke-width="1.6"/>
<path d="M789.40,146.99 C788.62,145.31 787.63,144.70 786.35,144.70 C784.36,144.70 783.15,146.23 783.15,148.68 C783.15,151.13 784.57,152.04 786.35,152.66 C788.48,153.42 789.69,154.49 789.69,156.63 C789.69,159.08 788.34,160.00 786.35,160.00 C784.79,160.00 783.51,158.93 782.80,156.94" stroke-width="1.6"/>
<path d="M794.1,144.1 V160.4" stroke-width="1.6"/>
<path d="M797.7,154.8 a5.2,5.1 0 1 0 10.4,0 a5.2,5.1 0 1 0 -10.4,0" stroke-width="1.6"/>
<path d="M813.2,144.1 V160.4 M811.2,149.6 H816.3" stroke-width="1.6"/>
<path d="M823.11,151.07 C822.49,149.92 821.71,149.50 820.70,149.50 C819.13,149.50 818.18,150.55 818.18,152.23 C818.18,153.91 819.30,154.54 820.70,154.96 C822.38,155.49 823.33,156.22 823.33,157.69 C823.33,159.37 822.27,160.00 820.70,160.00 C819.47,160.00 818.46,159.26 817.90,157.90" stroke-width="1.6"/>
</g>
</svg>
<div id="title">SA0009</div>
<table id="tbl"><colgroup><col style="width:243px"><col style="width:262px"><col style="width:179px"><col style="width:362px"></colgroup>
<tr style="height:31px"><td class="l"><span style="transform:translateY(-1px) scaleX(1.0)">Power</span></td><td class="v"><span style="transform:translateY(-1px) scaleX(1.0)">5.50 kW</span></td><td class="l"><span style="transform:translateY(-1px) scaleX(0.95)">O.D.1</span></td><td class="v"><span style="transform:translateY(-1px) scaleX(1.04)">83.00 mm</span></td></tr>
<tr style="height:31px"><td class="l"><span style="transform:translateY(-1px) scaleX(1.0)">Voltage</span></td><td class="v"><span style="transform:translateY(-1px) scaleX(1.0)">24 V</span></td><td class="l"><span style="transform:translateY(-1px) scaleX(0.95)">O.D.2</span></td><td class="v"><span style="transform:translateY(-1px) scaleX(1.03)">50.00 mm</span></td></tr>
<tr style="height:30px"><td class="l"><span style="transform:translateY(-1px) scaleX(1.06)">Slots</span></td><td class="v"><span style="transform:translateY(-1px) scaleX(1.03)">29 qty.</span></td><td class="l"><span style="transform:translateY(-1px) scaleX(1.0)">L.1</span></td><td class="v"><span style="transform:translateY(-1px) scaleX(1.0)">235.50 mm</span></td></tr>
</table>
</body></html>
